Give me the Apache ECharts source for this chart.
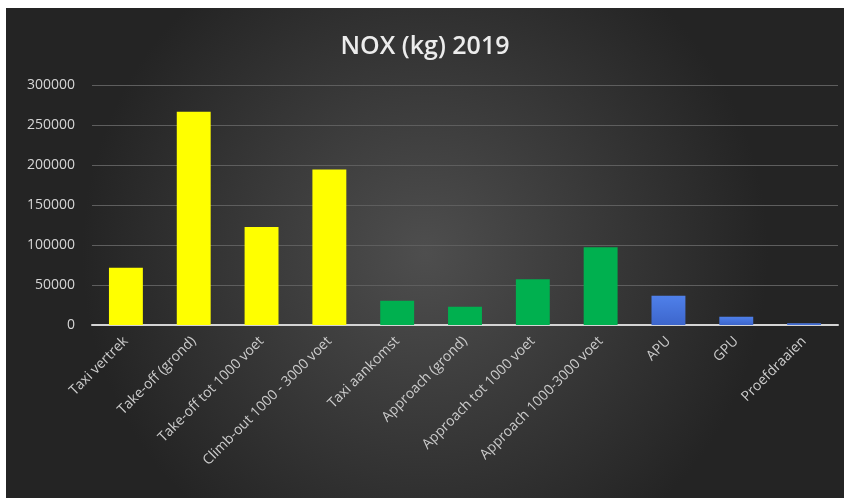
<!DOCTYPE html>
<html>
<head>
<meta charset="utf-8">
<script src="https://cdn.jsdelivr.net/npm/echarts@6/dist/echarts.min.js"></script>
<style>
html,body{margin:0;padding:0;background:#fff;}
#c{width:850px;height:504px;}
</style>
</head>
<body>
<div id="c"></div>
<script>
const categories = ["Taxi vertrek","Take-off (grond)","Take-off tot 1000 voet","Climb-out 1000 - 3000 voet","Taxi aankomst","Approach (grond)","Approach tot 1000 voet","Approach 1000-3000 voet","APU","GPU","Proefdraaien"];
const values = [71600, 266500, 122500, 194500, 30400, 22900, 57100, 97100, 36500, 10400, 2300];
const groups = ["vertrek","vertrek","vertrek","vertrek","aankomst","aankomst","aankomst","aankomst","grond","grond","grond"];
const yTicks = [0, 50000, 100000, 150000, 200000, 250000, 300000];

const groupColors = {
  vertrek: '#ffff00',
  aankomst: '#00b04f',
  grond: new echarts.graphic.LinearGradient(0,0,0,1,[{offset:0,color:'#4f80ea'},{offset:1,color:'#3d66cc'}])
};

const chart = echarts.init(document.getElementById('c'));
chart.setOption({
  backgroundColor: '#ffffff',
  animation: false,
  graphic: [{
    type: 'rect',
    z: -10,
    silent: true,
    shape: {x: 6, y: 8, width: 838, height: 490},
    style: {
      fill: new echarts.graphic.RadialGradient(0.5, 0.5, 0.7, [
        {offset: 0, color: '#4e4e4e'},
        {offset: 1, color: '#242424'}
      ])
    }
  }],
  title: {
    text: 'NOX (kg) 2019',
    left: 'center',
    top: 29,
    textStyle: {color: '#ececec', fontSize: 25, fontWeight: 600, fontFamily: 'Open Sans'}
  },
  grid: {left: 92, right: 12, top: 85, bottom: 179, containLabel: false},
  xAxis: {
    type: 'category',
    data: categories,
    axisLine: {lineStyle: {color: '#d4d4d4', width: 2}},
    axisTick: {show: false},
    axisLabel: {rotate: 45, color: '#cccccc', fontSize: 14, fontFamily: 'Open Sans', margin: 14, interval: 0}
  },
  yAxis: {
    type: 'value',
    min: yTicks[0],
    max: yTicks[yTicks.length-1],
    interval: yTicks[1]-yTicks[0],
    axisLine: {show: false},
    axisTick: {show: false},
    splitLine: {lineStyle: {color: '#5e5e5e', width: 1}},
    axisLabel: {color: '#d6d6d6', fontSize: 14, fontFamily: 'Open Sans', margin: 17, formatter: v => String(v)}
  },
  series: [{
    type: 'bar',
    barWidth: '50%',
    data: values.map((v, i) => ({value: v, itemStyle: {color: groupColors[groups[i]]}}))
  }]
});
</script>
</body>
</html>
